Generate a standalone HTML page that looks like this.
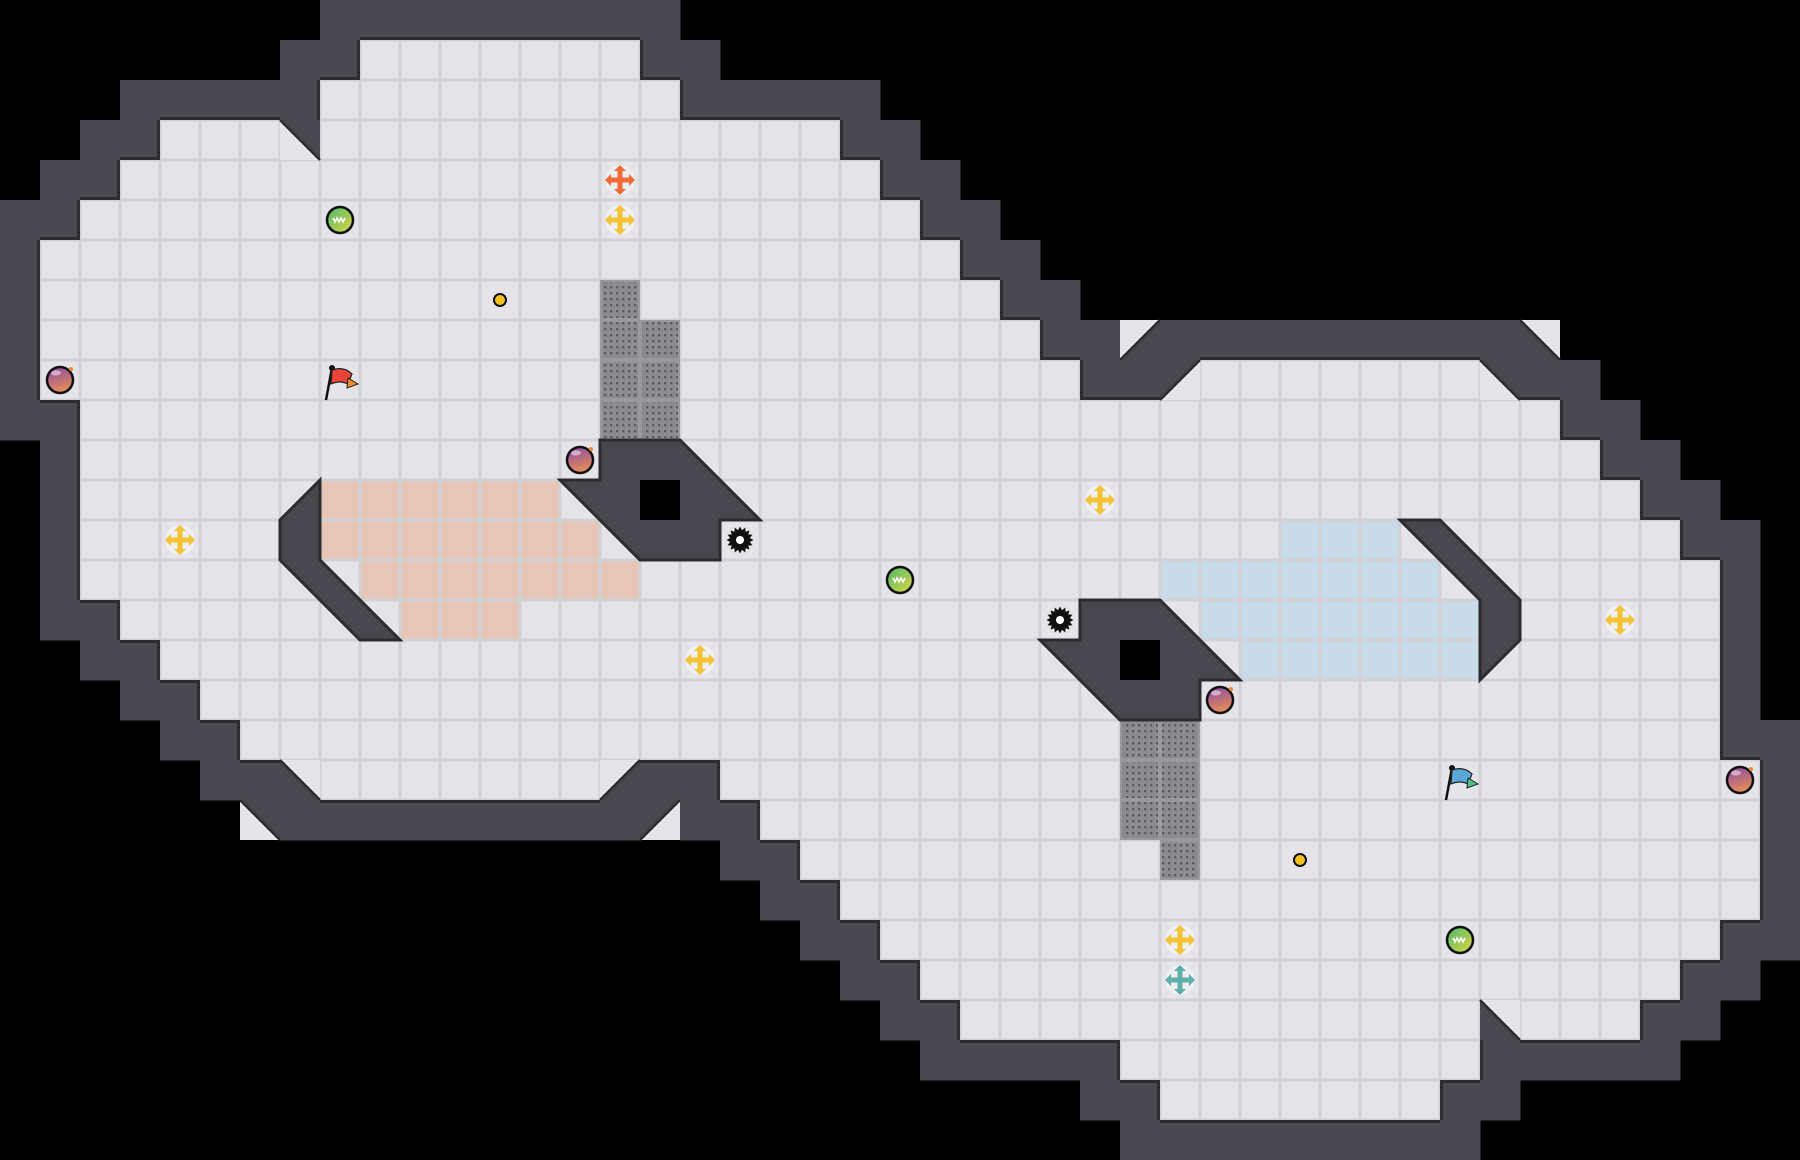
<!DOCTYPE html>
<html><head><meta charset="utf-8">
<style>html,body{margin:0;padding:0;background:#000;width:1800px;height:1160px;overflow:hidden}</style>
</head><body>
<svg id="s" xmlns="http://www.w3.org/2000/svg" width="1800" height="1160" viewBox="0 0 1800 1160">
<defs>
<pattern id="dots" width="6" height="6" patternUnits="userSpaceOnUse" x="2" y="2">
<rect width="6" height="6" fill="#8c8c8e"/><rect x="2" y="2" width="2.4" height="2.4" fill="#5e5e60"/>
</pattern>
<linearGradient id="bomb" x1="0" y1="0" x2="0.3" y2="1"><stop offset="0" stop-color="#8a4aa6"/><stop offset="1" stop-color="#e08a5a"/></linearGradient>
<linearGradient id="pu" x1="0" y1="0" x2="1" y2="1"><stop offset="0" stop-color="#4cb86a"/><stop offset="1" stop-color="#e3d84a"/></linearGradient>
</defs>
<rect width="1800" height="1160" fill="#000"/>
<g id="g"></g>
</svg>
<script>
(function(){
var T=40,W=45,H=29,NS="http://www.w3.org/2000/svg",g=document.getElementById('g');
function el(n,a){var e=document.createElementNS(NS,n);for(var k in a)e.setAttribute(k,a[k]);g.appendChild(e);return e;}
var rows={1:[[9,15]],2:[[8,16]],3:[[4,6],[8,20]],4:[[3,21]],5:[[2,22]],6:[[1,23]],7:[[1,24]],8:[[1,25]],9:[[1,26],[30,36]],10:[[2,38]],11:[[2,39]],12:[[2,40]],13:[[2,41]],14:[[2,42]]};
var F=[];for(var r=0;r<H;r++){F.push([]);for(var c=0;c<W;c++)F[r].push(0);}
for(var r in rows){rows[r].forEach(function(iv){for(var c=iv[0];c<=iv[1];c++){F[+r][c]=1;F[28-r][44-c]=1;}});}
var diag=[[7,3,'NE'],[28,8,'SE'],[38,8,'SW'],[29,9,'NW'],[37,9,'NE']];
var opp={NE:'SW',SW:'NE',NW:'SE',SE:'NW'};
diag=diag.concat(diag.map(function(d){return [44-d[0],28-d[1],opp[d[2]]];}));
var D={};diag.forEach(function(d){D[d[1]+','+d[0]]=1;});
var WALL='#48474d';
for(var r=0;r<H;r++)for(var c=0;c<W;c++){
 if(F[r][c]||D[r+','+c])continue;
 var w=0;for(var dr=-1;dr<=1;dr++)for(var dc=-1;dc<=1;dc++){var rr=r+dr,cc=c+dc;if(rr>=0&&rr<H&&cc>=0&&cc<W&&F[rr][cc])w=1;}
 if(w)el('rect',{x:c*T,y:r*T,width:T+0.5,height:T+0.5,fill:WALL});
}
function floorTile(c,r,fill){
 el('rect',{x:c*T,y:r*T,width:T,height:T,fill:'#d2d2d6'});
 el('rect',{x:c*T+1.5,y:r*T+1.5,width:T-3,height:T-3,fill:fill||'#e5e5e9'});
}
for(var r=0;r<H;r++)for(var c=0;c<W;c++)if(F[r][c])floorTile(c,r);
// dark edge where wall meets floor
for(var r=0;r<H;r++)for(var c=0;c<W;c++){if(!F[r][c])continue;
 var x=c*T,y=r*T;
 function isW(rr,cc){return rr>=0&&rr<H&&cc>=0&&cc<W&&!F[rr][cc]&&!D[rr+','+cc];}
 if(isW(r-1,c))el('rect',{x:x,y:y-3,width:T,height:3,fill:'#2c2b30'});
 if(isW(r+1,c))el('rect',{x:x,y:y+T,width:T,height:3,fill:'#2c2b30'});
 if(isW(r,c-1))el('rect',{x:x-3,y:y,width:3,height:T,fill:'#2c2b30'});
 if(isW(r,c+1))el('rect',{x:x+T,y:y,width:3,height:T,fill:'#2c2b30'});
}
diag.forEach(function(d){
 var x=d[0]*T,y=d[1]*T,p={NW:[x,y],NE:[x+T,y],SE:[x+T,y+T],SW:[x,y+T]};
 var ks=['NW','NE','SE','SW'],wi=ks.indexOf(d[2]);
 var fk=ks[(wi+2)%4],a=ks[(wi+1)%4],b=ks[(wi+3)%4];
 el('polygon',{points:[p[fk],p[a],p[b]].join(' '),fill:'#e5e5e9'});
 el('polygon',{points:[p[d[2]],p[a],p[b]].join(' '),fill:WALL});
 el('line',{x1:p[a][0],y1:p[a][1],x2:p[b][0],y2:p[b][1],stroke:'#2c2b30','stroke-width':2.5});
});
var red={12:[8,13],13:[8,14],14:[9,15],15:[10,12]};
for(var r in red){for(var c=red[r][0];c<=red[r][1];c++){floorTile(c,+r,'#e8c6b7');floorTile(44-c,28-r,'#c9dbe9');}}
[[15,7],[15,8],[15,9],[15,10],[16,8],[16,9],[16,10]].forEach(function(t){
 [[t[0],t[1]],[44-t[0],28-t[1]]].forEach(function(q){
  el('rect',{x:q[0]*T,y:q[1]*T,width:T,height:T,fill:'#9a9a9c'});
  el('rect',{x:q[0]*T+2,y:q[1]*T+2,width:T-4,height:T-4,fill:'url(#dots)'});
 });
});
function poly(pts){
 var a=pts.map(function(p){return p[0]*T+','+p[1]*T;}).join(' ');
 var b=pts.map(function(p){return (45-p[0])*T+','+(29-p[1])*T;}).join(' ');
 el('polygon',{points:a,fill:WALL,stroke:'#2c2b30','stroke-width':3});
 el('polygon',{points:b,fill:WALL,stroke:'#2c2b30','stroke-width':3});
}
poly([[15,11],[17,11],[19,13],[18,13],[18,14],[16,14],[14,12],[15,12]]);
poly([[8,12],[7,13],[7,14],[9,16],[10,16],[8,14]]);
el('rect',{x:16*T,y:12*T,width:T,height:T,fill:'#000'});
el('rect',{x:28*T,y:16*T,width:T,height:T,fill:'#000'});
function cx(c){return c*T+20;}
function boost(c,r,col){
 var x=cx(c),y=cx(r);
 el('circle',{cx:x,cy:y,r:15,fill:'#eeeef0'});
 el('rect',{x:x-2.5,y:y-11,width:5,height:22,fill:col});
 el('rect',{x:x-11,y:y-2.5,width:22,height:5,fill:col});
 el('polygon',{points:(x-6)+','+(y-9)+' '+(x+6)+','+(y-9)+' '+x+','+(y-15),fill:col});
 el('polygon',{points:(x-6)+','+(y+9)+' '+(x+6)+','+(y+9)+' '+x+','+(y+15),fill:col});
 el('polygon',{points:(x-9)+','+(y-6)+' '+(x-9)+','+(y+6)+' '+(x-15)+','+y,fill:col});
 el('polygon',{points:(x+9)+','+(y-6)+' '+(x+9)+','+(y+6)+' '+(x+15)+','+y,fill:col});
}
function bomb(c,r){var x=cx(c),y=cx(r);el('circle',{cx:x,cy:y,r:13,fill:'url(#bomb)',stroke:'#111','stroke-width':2.5});el('circle',{cx:x+11,cy:y-11,r:2,fill:'#f08a30'});el('ellipse',{cx:x-4,cy:y-7,rx:5,ry:2.5,fill:'#f4e0f0',opacity:0.6});}
function pu(c,r){var x=cx(c),y=cx(r);el('circle',{cx:x,cy:y,r:13,fill:'url(#pu)',stroke:'#111','stroke-width':2.5});el('path',{d:'M'+(x-7)+' '+(y-2)+' l2 4 l2 -4 l2 4 l2 -4 l2 4 l2 -4',stroke:'#fff','stroke-width':1.6,fill:'none'});}
function gear(c,r){var x=cx(c),y=cx(r),p=[];for(var i=0;i<32;i++){var a=i*Math.PI/16,rr=i%2?10:13.5;p.push((x+rr*Math.cos(a)).toFixed(1)+','+(y+rr*Math.sin(a)).toFixed(1));}el('polygon',{points:p.join(' '),fill:'#111'});el('circle',{cx:x,cy:y,r:4,fill:'#fff'});}
function dot(c,r){el('circle',{cx:cx(c),cy:cx(r),r:6,fill:'#f5c21b',stroke:'#111','stroke-width':2});}
function flag(c,r,c1,c2){var x=c*T,y=r*T;el('line',{x1:x+6,y1:y+40,x2:x+12,y2:y+8,stroke:'#111','stroke-width':2.5});el('circle',{cx:x+12,cy:y+8,r:3,fill:'#111'});el('path',{d:'M'+(x+12)+' '+(y+10)+' q12 -4 20 4 l-4 10 q-8 -4 -17 0z',fill:c1,stroke:'#222','stroke-width':1.2});el('path',{d:'M'+(x+28)+' '+(y+18)+' l10 6 l-11 4z',fill:c2,stroke:'#222','stroke-width':1});}
boost(15,4,'#f26a3a');boost(15,5,'#f7c232');boost(4,13,'#f7c232');boost(17,16,'#f7c232');boost(27,12,'#f7c232');
boost(40,15,'#f7c232');boost(29,23,'#f7c232');boost(29,24,'#5fb0aa');
pu(8,5);pu(22,14);pu(36,23);
dot(12,7);dot(32,21);
bomb(1,9);bomb(14,11);bomb(30,17);bomb(43,19);
gear(18,13);gear(26,15);
flag(8,9,'#e8443a','#f08a30');flag(36,19,'#5aa8d8','#4cc08a');
})();
</script>
</body></html>
